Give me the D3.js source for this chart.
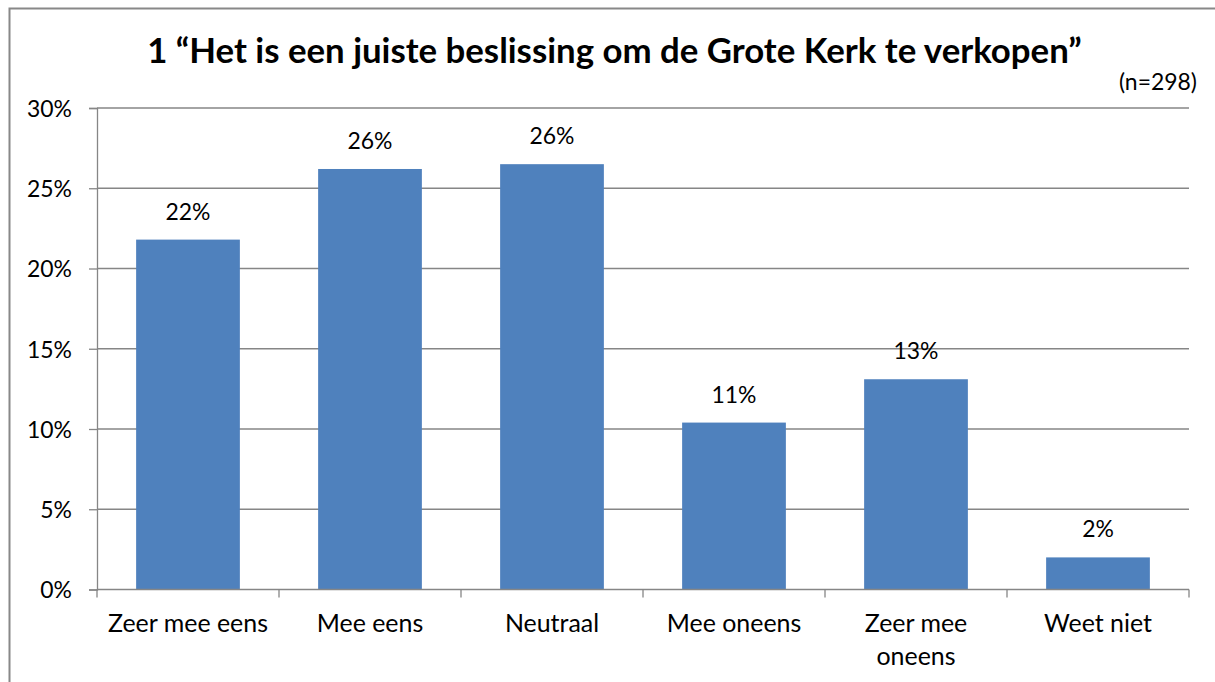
<!DOCTYPE html>
<html><head><meta charset="utf-8">
<script src="https://cdn.jsdelivr.net/npm/d3@7"></script>
<style>body{margin:0;background:#fff}svg{display:block}text{font-family:Lato,"Open Sans",sans-serif;fill:#000}</style>
</head><body>
<script>
const categories = ["Zeer mee eens", "Mee eens", "Neutraal", "Mee oneens", "Zeer mee oneens", "Weet niet"];
const categoryLines = [["Zeer mee eens"], ["Mee eens"], ["Neutraal"], ["Mee oneens"], ["Zeer mee", "oneens"], ["Weet niet"]];
const values = [21.8, 26.2, 26.5, 10.4, 13.1, 2.0];
const valueLabels = ["22%", "26%", "26%", "11%", "13%", "2%"];
const yTicks = [0, 5, 10, 15, 20, 25, 30];
const title = "1 \u201cHet is een juiste beslissing om de Grote Kerk te verkopen\u201d";
const subtitle = "(n=298)";

const W = 1215, H = 682;
const svg = d3.select("body").append("svg").attr("width", W).attr("height", H);
svg.append("rect").attr("x", 9.5).attr("y", 8.5).attr("width", W).attr("height", H).attr("fill", "none").attr("stroke", "#888").attr("stroke-width", 2);

// fit a font size so that a sample string has a target width
function fitSize(sample, target, weight) {
  const t = svg.append("text").style("font-size", "100px").style("font-weight", weight || "normal").text(sample);
  const w = t.node().getComputedTextLength();
  t.remove();
  return 100 * target / w;
}
const labelSize = fitSize("Zeer mee eens", 160);
const tickSize = fitSize("30%", 45);
const titleSize = fitSize(title, 935, "bold");

const L = 97, R = 1189, T = 108, B = 589.5;
const x = d3.scaleBand().domain(categories).range([L, R]).paddingInner(0.43).paddingOuter(0.215);
const y = d3.scaleLinear().domain([0, 30]).range([B, T]);

// gridlines
svg.append("g").selectAll("line").data(yTicks.filter(d => d > 0)).join("line")
  .attr("x1", L).attr("x2", R).attr("y1", d => y(d)).attr("y2", d => y(d))
  .attr("stroke", "#868686").attr("stroke-width", 1.3);

// y axis
const yAxis = svg.append("g").attr("transform", `translate(${L},0)`)
  .call(d3.axisLeft(y).tickValues(yTicks).tickSize(8).tickPadding(17).tickFormat(d => d + "%"));
yAxis.select(".domain").attr("stroke", "#868686").attr("stroke-width", 1.3);
yAxis.selectAll(".tick line").attr("stroke", "#868686").attr("stroke-width", 1.3);
yAxis.selectAll("text").style("font-size", tickSize + "px").attr("dy", "0.36em");

// bars
svg.append("g").selectAll("rect").data(values).join("rect")
  .attr("x", (d, i) => x(categories[i])).attr("width", x.bandwidth())
  .attr("y", d => y(d)).attr("height", d => B - y(d)).attr("fill", "#4F81BD");

// x axis
const xg = svg.append("g");
xg.append("line").attr("x1", L).attr("x2", R).attr("y1", B).attr("y2", B).attr("stroke", "#868686").attr("stroke-width", 1.3);
xg.selectAll("line.t").data(d3.range(categories.length + 1)).join("line").attr("class", "t")
  .attr("x1", i => L + i * (R - L) / categories.length).attr("x2", i => L + i * (R - L) / categories.length)
  .attr("y1", B).attr("y2", B + 8).attr("stroke", "#868686").attr("stroke-width", 1.3);
categories.forEach((c, i) => {
  const t = xg.append("text").attr("text-anchor", "middle").style("font-size", labelSize + "px")
    .attr("x", x(c) + x.bandwidth() / 2).attr("y", 632);
  categoryLines[i].forEach((ln, j) => t.append("tspan").attr("x", x(c) + x.bandwidth() / 2).attr("dy", j ? 33 : 0).text(ln));
});

// value labels
svg.append("g").selectAll("text").data(values).join("text")
  .attr("text-anchor", "middle").style("font-size", tickSize + "px")
  .attr("x", (d, i) => x(categories[i]) + x.bandwidth() / 2).attr("y", d => y(d) - 20)
  .text((d, i) => valueLabels[i]);

svg.append("text").attr("x", 614.5).attr("y", 63).attr("text-anchor", "middle")
  .style("font-size", titleSize + "px").style("font-weight", "bold").text(title);
svg.append("text").attr("x", 1197).attr("y", 90).attr("text-anchor", "end").style("font-size", tickSize + "px").text(subtitle);
</script>
</body></html>
